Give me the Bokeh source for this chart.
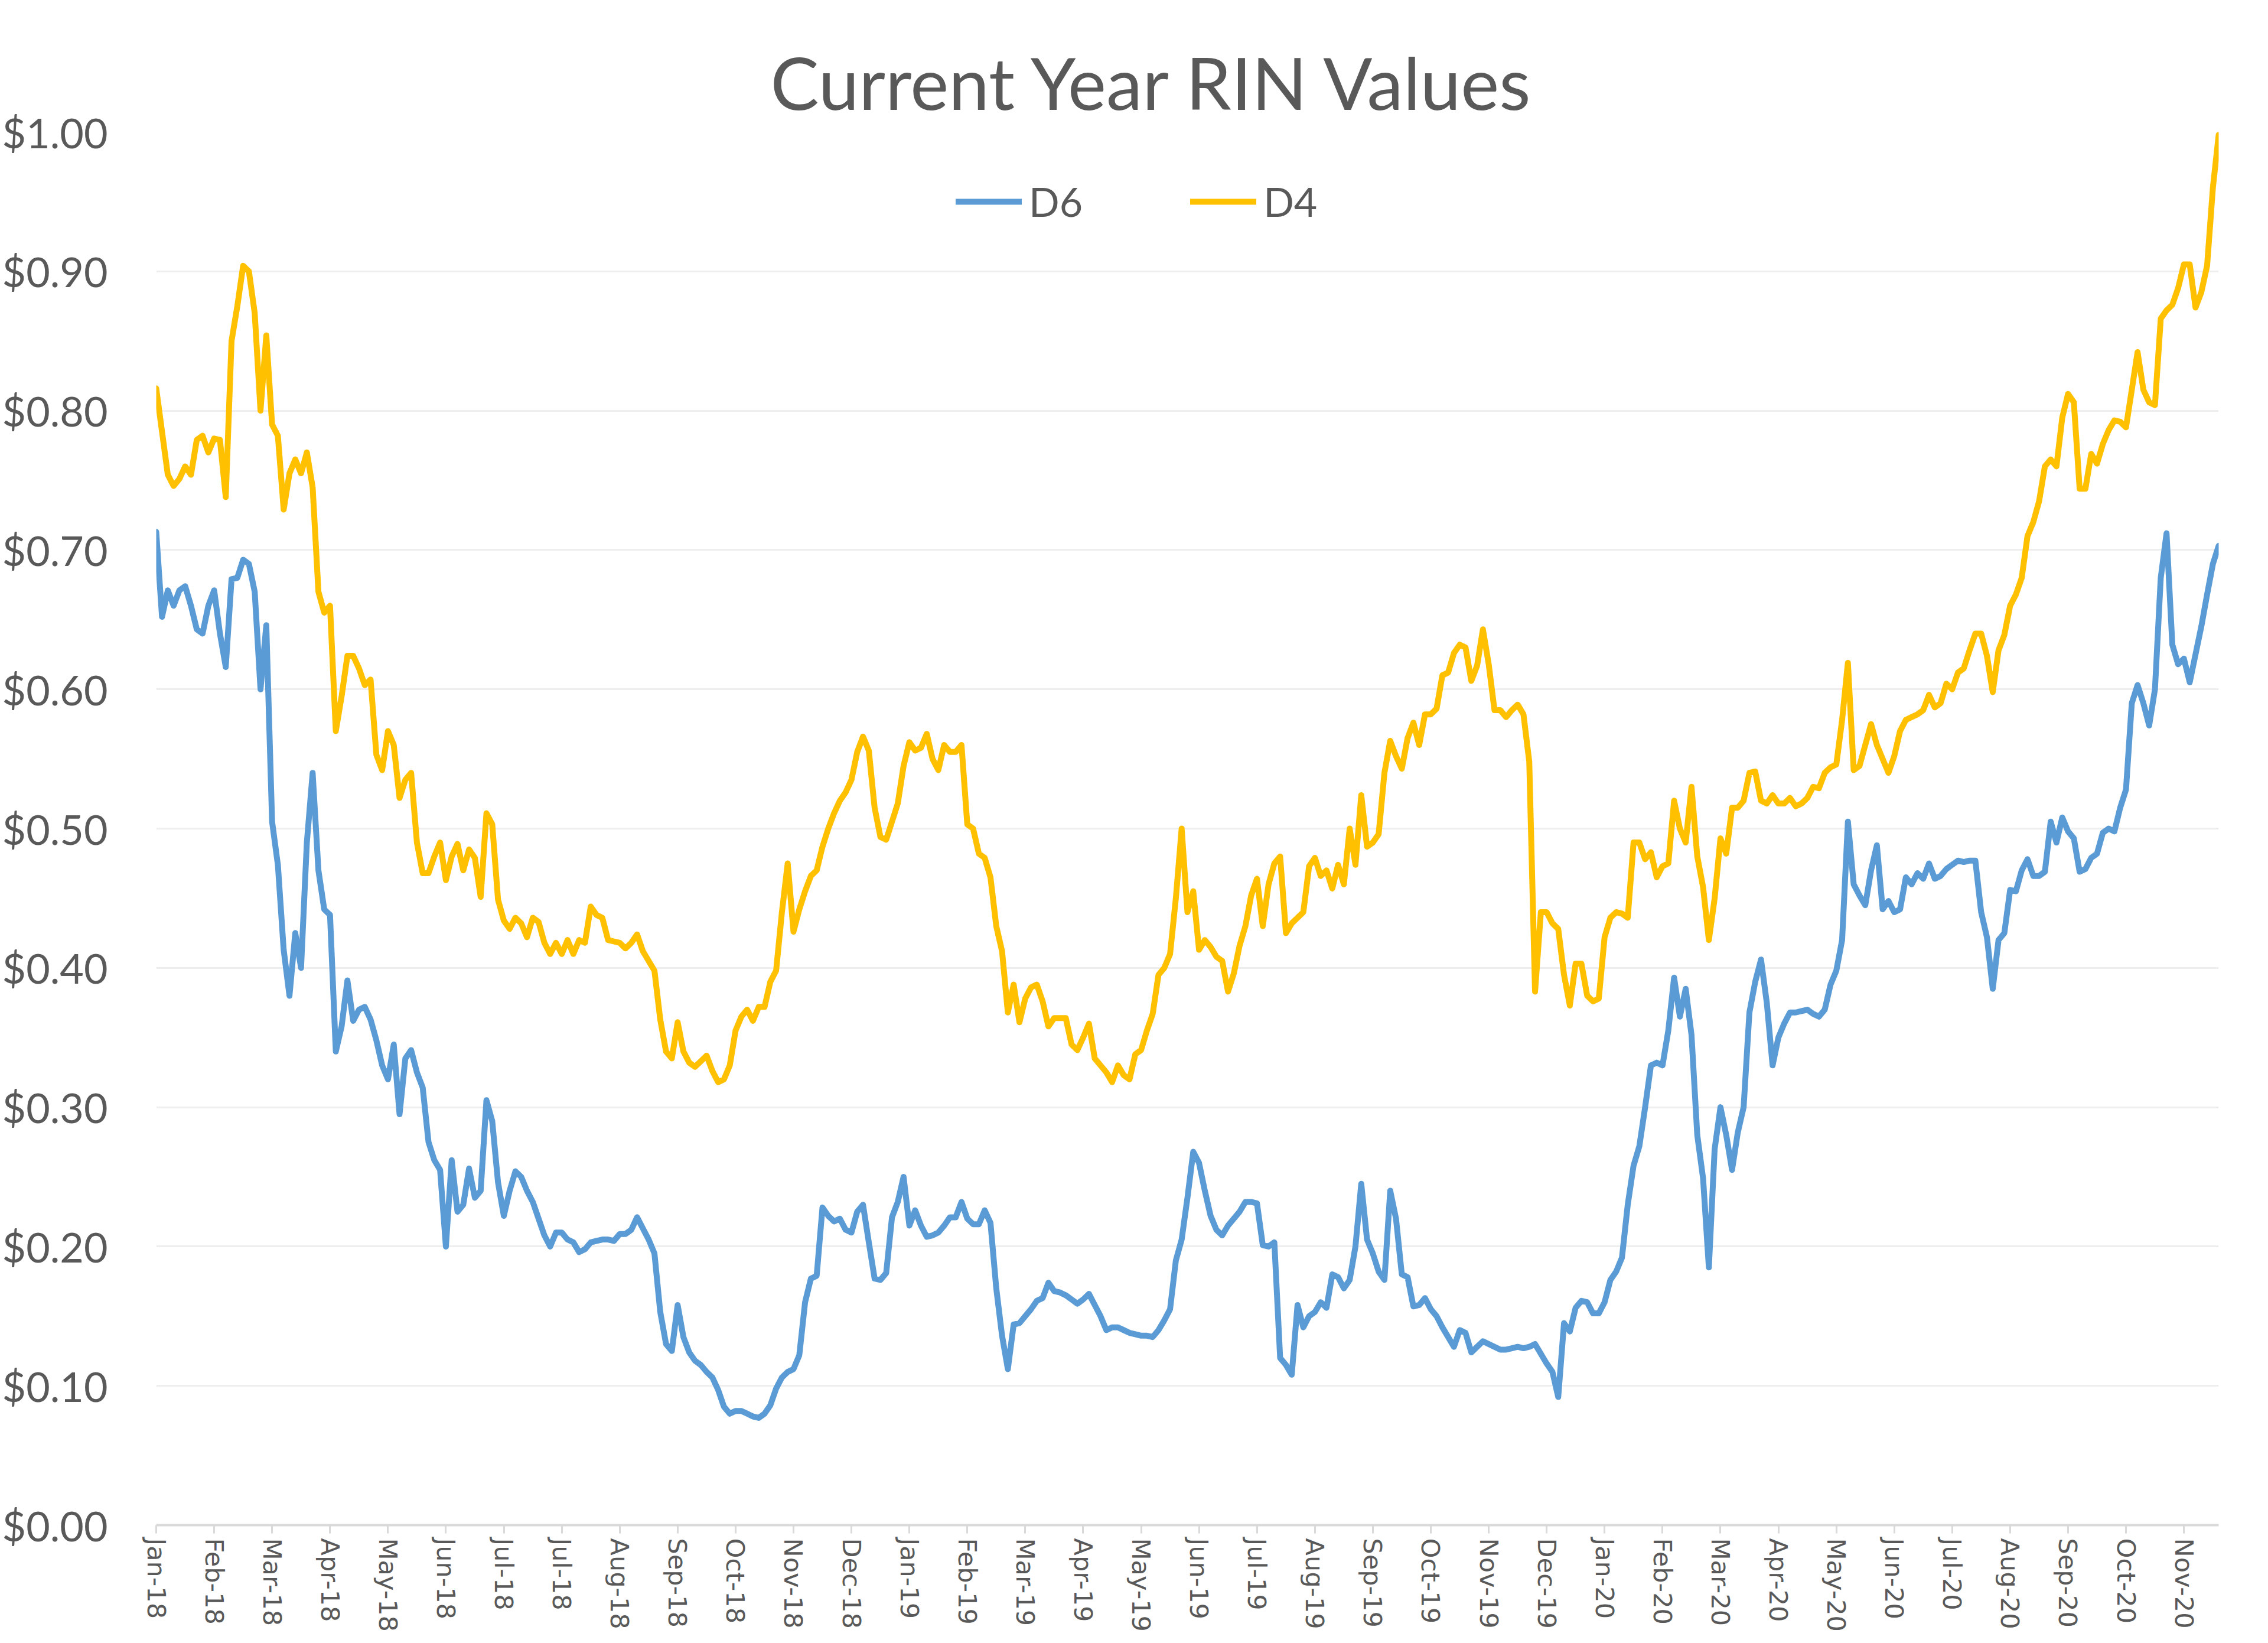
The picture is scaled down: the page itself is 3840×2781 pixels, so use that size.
import pandas as pd
from bokeh.plotting import figure
from bokeh.models import (Range1d, FixedTicker, NumeralTickFormatter, Legend,
                          LegendItem, Title)
from bokeh.embed import file_html
from bokeh.resources import INLINE

# ---------------- data ----------------
start_date = "2018-01-02"          # first observation; samples every 3 days
sample_step = "3D"

d4 = [
    0.816, 0.785, 0.754, 0.746, 0.751, 0.760, 0.754, 0.779, 0.782, 0.770,
    0.780, 0.779, 0.738, 0.850, 0.875, 0.904, 0.900, 0.870, 0.800, 0.854,
    0.790, 0.782, 0.729, 0.755, 0.765, 0.755, 0.770, 0.745, 0.670, 0.655,
    0.660, 0.570, 0.595, 0.624, 0.624, 0.615, 0.603, 0.607, 0.553, 0.542,
    0.570, 0.560, 0.522, 0.535, 0.540, 0.490, 0.468, 0.468, 0.480, 0.490,
    0.463, 0.480, 0.489, 0.470, 0.485, 0.479, 0.451, 0.511, 0.503, 0.449,
    0.434, 0.428, 0.436, 0.432, 0.422, 0.436, 0.433, 0.418, 0.410, 0.418,
    0.410, 0.420, 0.410, 0.420, 0.418, 0.444, 0.438, 0.436, 0.420, 0.419,
    0.418, 0.414, 0.418, 0.424, 0.412, 0.405, 0.398, 0.363, 0.340, 0.335,
    0.361, 0.340, 0.332, 0.329, 0.333, 0.337, 0.326, 0.318, 0.320, 0.330,
    0.355, 0.365, 0.370, 0.362, 0.372, 0.372, 0.390, 0.398, 0.440, 0.475,
    0.426, 0.442, 0.455, 0.466, 0.470, 0.487, 0.500, 0.511, 0.520, 0.526,
    0.535, 0.555, 0.566, 0.556, 0.515, 0.494, 0.492, 0.505, 0.518, 0.545,
    0.562, 0.556, 0.558, 0.568, 0.550, 0.542, 0.560, 0.555, 0.555, 0.560,
    0.503, 0.500, 0.482, 0.479, 0.465, 0.430, 0.412, 0.368, 0.388, 0.361,
    0.378, 0.386, 0.388, 0.376, 0.358, 0.364, 0.364, 0.364, 0.345, 0.341,
    0.350, 0.360, 0.335, 0.330, 0.325, 0.318, 0.330, 0.323, 0.320, 0.338,
    0.341, 0.355, 0.367, 0.395, 0.400, 0.410, 0.450, 0.500, 0.440, 0.455,
    0.413, 0.420, 0.415, 0.408, 0.405, 0.383, 0.396, 0.416, 0.430, 0.452,
    0.464, 0.430, 0.460, 0.475, 0.480, 0.425, 0.432, 0.436, 0.440, 0.473,
    0.479, 0.466, 0.470, 0.457, 0.474, 0.460, 0.500, 0.474, 0.524, 0.487,
    0.490, 0.496, 0.540, 0.563, 0.552, 0.543, 0.565, 0.576, 0.560, 0.582,
    0.582, 0.586, 0.610, 0.612, 0.626, 0.632, 0.630, 0.606, 0.617, 0.643,
    0.618, 0.585, 0.585, 0.580, 0.585, 0.589, 0.582, 0.548, 0.383, 0.440,
    0.440, 0.432, 0.428, 0.395, 0.373, 0.403, 0.403, 0.380, 0.376, 0.378,
    0.422, 0.436, 0.440, 0.439, 0.436, 0.490, 0.490, 0.478, 0.483, 0.465,
    0.473, 0.475, 0.520, 0.500, 0.490, 0.530, 0.480, 0.458, 0.420, 0.450,
    0.493, 0.482, 0.515, 0.515, 0.520, 0.540, 0.541, 0.520, 0.518, 0.524,
    0.518, 0.518, 0.522, 0.516, 0.518, 0.522, 0.530, 0.529, 0.540, 0.544,
    0.546, 0.578, 0.619, 0.542, 0.545, 0.560, 0.575, 0.560, 0.550, 0.540,
    0.552, 0.570, 0.578, 0.580, 0.582, 0.585, 0.596, 0.587, 0.590, 0.604,
    0.600, 0.612, 0.615, 0.628, 0.640, 0.640, 0.624, 0.598, 0.628, 0.639,
    0.660, 0.668, 0.680, 0.710, 0.720, 0.735, 0.760, 0.765, 0.760, 0.795,
    0.812, 0.806, 0.744, 0.744, 0.769, 0.762, 0.776, 0.786, 0.793, 0.792,
    0.788, 0.815, 0.842, 0.815, 0.806, 0.804, 0.866, 0.872, 0.876, 0.888,
    0.905, 0.905, 0.874, 0.885, 0.904, 0.960, 0.998,
]

d6 = [
    0.713, 0.652, 0.671, 0.660, 0.671, 0.674, 0.660, 0.643, 0.640, 0.660,
    0.671, 0.640, 0.616, 0.679, 0.680, 0.693, 0.690, 0.670, 0.600, 0.646,
    0.505, 0.474, 0.413, 0.380, 0.425, 0.400, 0.490, 0.540, 0.470, 0.442,
    0.438, 0.340, 0.358, 0.391, 0.362, 0.370, 0.372, 0.363, 0.348, 0.330,
    0.320, 0.345, 0.295, 0.335, 0.341, 0.325, 0.314, 0.275, 0.262, 0.255,
    0.200, 0.262, 0.225, 0.230, 0.256, 0.235, 0.240, 0.305, 0.290, 0.246,
    0.222, 0.240, 0.254, 0.250, 0.240, 0.232, 0.220, 0.208, 0.200, 0.210,
    0.210, 0.205, 0.203, 0.196, 0.198, 0.203, 0.204, 0.205, 0.205, 0.204,
    0.209, 0.209, 0.212, 0.221, 0.213, 0.205, 0.195, 0.153, 0.130, 0.125,
    0.158, 0.135, 0.124, 0.118, 0.115, 0.110, 0.106, 0.097, 0.085, 0.080,
    0.082, 0.082, 0.080, 0.078, 0.077, 0.080, 0.086, 0.098, 0.106, 0.110,
    0.112, 0.122, 0.160, 0.177, 0.179, 0.228, 0.222, 0.218, 0.220, 0.212,
    0.210, 0.225, 0.230, 0.203, 0.177, 0.176, 0.181, 0.221, 0.232, 0.250,
    0.215, 0.226, 0.215, 0.207, 0.208, 0.210, 0.215, 0.221, 0.221, 0.232,
    0.220, 0.216, 0.216, 0.226, 0.217, 0.170, 0.136, 0.112, 0.144, 0.145,
    0.150, 0.155, 0.161, 0.163, 0.174, 0.168, 0.167, 0.165, 0.162, 0.159,
    0.162, 0.166, 0.158, 0.150, 0.140, 0.142, 0.142, 0.140, 0.138, 0.137,
    0.136, 0.136, 0.135, 0.140, 0.147, 0.155, 0.190, 0.205, 0.235, 0.268,
    0.260, 0.240, 0.222, 0.212, 0.208, 0.215, 0.220, 0.225, 0.232, 0.232,
    0.231, 0.201, 0.200, 0.203, 0.120, 0.115, 0.108, 0.158, 0.142, 0.150,
    0.153, 0.160, 0.156, 0.180, 0.178, 0.170, 0.176, 0.200, 0.245, 0.205,
    0.195, 0.182, 0.176, 0.240, 0.220, 0.180, 0.178, 0.157, 0.158, 0.163,
    0.155, 0.150, 0.142, 0.135, 0.128, 0.140, 0.138, 0.124, 0.128, 0.132,
    0.130, 0.128, 0.126, 0.126, 0.127, 0.128, 0.127, 0.128, 0.130, 0.123,
    0.116, 0.110, 0.092, 0.145, 0.139, 0.156, 0.161, 0.160, 0.152, 0.152,
    0.160, 0.176, 0.182, 0.192, 0.230, 0.258, 0.272, 0.300, 0.330, 0.332,
    0.330, 0.355, 0.393, 0.365, 0.385, 0.352, 0.280, 0.249, 0.185, 0.270,
    0.300, 0.280, 0.255, 0.282, 0.300, 0.368, 0.390, 0.406, 0.375, 0.330,
    0.350, 0.360, 0.368, 0.368, 0.369, 0.370, 0.367, 0.365, 0.370, 0.388,
    0.398, 0.420, 0.505, 0.460, 0.452, 0.445, 0.470, 0.488, 0.442, 0.448,
    0.440, 0.442, 0.465, 0.460, 0.468, 0.464, 0.475, 0.464, 0.466, 0.471,
    0.474, 0.477, 0.476, 0.477, 0.477, 0.440, 0.422, 0.385, 0.420, 0.425,
    0.456, 0.455, 0.470, 0.478, 0.466, 0.466, 0.469, 0.505, 0.490, 0.508,
    0.498, 0.493, 0.469, 0.471, 0.479, 0.482, 0.497, 0.500, 0.498, 0.515,
    0.528, 0.590, 0.603, 0.590, 0.574, 0.600, 0.680, 0.712, 0.632, 0.618,
    0.622, 0.605, 0.625, 0.645, 0.668, 0.690, 0.703,
]

series_names = ["D6", "D4"]
series_colors = ["#5B9BD5", "#FFC000"]

x_tick_labels = [
    "Jan-18", "Feb-18", "Mar-18", "Apr-18", "May-18", "Jun-18", "Jul-18",
    "Jul-18", "Aug-18", "Sep-18", "Oct-18", "Nov-18", "Dec-18", "Jan-19",
    "Feb-19", "Mar-19", "Apr-19", "May-19", "Jun-19", "Jul-19", "Aug-19",
    "Sep-19", "Oct-19", "Nov-19", "Dec-19", "Jan-20", "Feb-20", "Mar-20",
    "Apr-20", "May-20", "Jun-20", "Jul-20", "Aug-20", "Sep-20", "Oct-20",
    "Nov-20",
]
x_tick_step = "30D"               # Excel date axis major unit: 30 days
y_ticks = [0.0, 0.1, 0.2, 0.3, 0.4, 0.5, 0.6, 0.7, 0.8, 0.9, 1.0]
title_text = "Current Year RIN Values"

# ---------------- build ----------------
dates = pd.date_range(start_date, periods=len(d4), freq=sample_step)
tick_dates = pd.date_range(start_date, periods=len(x_tick_labels), freq=x_tick_step)
tick_ms = [int(t.value // 10**6) for t in tick_dates]

TXT = "#595959"
FONT = "Lato"

p = figure(
    x_axis_type="datetime",
    frame_width=3492, frame_height=2358,
    min_border_left=262, min_border_right=70,
    min_border_top=223, min_border_bottom=190,
    output_backend="svg", toolbar_location=None,
    x_range=Range1d(dates[0], dates[-1]),
    y_range=Range1d(0, 1.0),
)
p.outline_line_color = None
p.background_fill_color = "white"
p.border_fill_color = "white"

t = Title(text=title_text, align="left", text_font=FONT,
          text_font_size="123px", text_font_style="normal",
          text_color=TXT, offset=1040, standoff=24)
p.add_layout(t, "above")

r6 = p.line(dates, d6, line_color=series_colors[0], line_width=10,
            line_join="round", line_cap="round")
r4 = p.line(dates, d4, line_color=series_colors[1], line_width=10,
            line_join="round", line_cap="round")

legend = Legend(items=[LegendItem(label=series_names[0], renderers=[r6]),
                       LegendItem(label=series_names[1], renderers=[r4])],
                orientation="horizontal", location=(1354, 2200))
legend.border_line_color = None
legend.background_fill_alpha = 0
legend.padding = 0
legend.margin = 0
legend.spacing = 182
legend.glyph_width = 112
legend.glyph_height = 50
legend.label_standoff = 12
legend.label_text_font = FONT
legend.label_text_font_size = "68px"
legend.label_text_color = TXT
p.add_layout(legend, "center")

# y axis
p.yaxis.ticker = FixedTicker(ticks=y_ticks)
p.yaxis.formatter = NumeralTickFormatter(format="$0.00")
p.yaxis.axis_line_color = None
p.yaxis.major_tick_line_color = None
p.yaxis.minor_tick_line_color = None
p.yaxis.major_label_standoff = 76
p.yaxis.major_label_text_font = FONT
p.yaxis.major_label_text_font_size = "70px"
p.yaxis.major_label_text_color = TXT

p.ygrid.ticker = FixedTicker(ticks=y_ticks)
p.ygrid.grid_line_color = "#eeeeee"
p.ygrid.grid_line_width = 3
p.xgrid.grid_line_color = None

# x axis
p.xaxis.ticker = FixedTicker(ticks=tick_ms)
p.xaxis.major_label_overrides = {ms: lab for ms, lab in zip(tick_ms, x_tick_labels)}
p.xaxis.major_label_orientation = "vertical"
p.xaxis.axis_line_color = "#d9d9d9"
p.xaxis.axis_line_width = 4
p.xaxis.major_tick_line_color = "#d9d9d9"
p.xaxis.major_tick_line_width = 3
p.xaxis.major_tick_out = 14
p.xaxis.major_tick_in = 0
p.xaxis.minor_tick_line_color = None
p.xaxis.major_label_standoff = 8
p.xaxis.major_label_text_font = "DejaVu Sans"
p.xaxis.major_label_text_font_size = "43px"
p.xaxis.major_label_text_color = TXT

with open("out.html", "w", encoding="utf-8") as f:
    f.write(file_html(p, INLINE))
